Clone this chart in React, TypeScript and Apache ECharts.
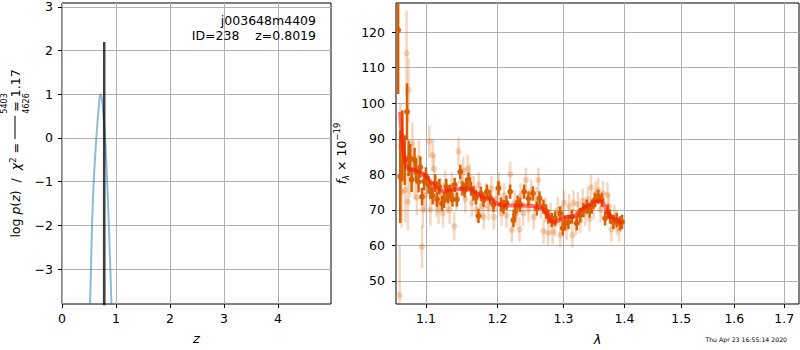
import React, { useEffect, useRef } from 'react';
import * as echarts from 'echarts';

// ---- left panel: log p(z) ----
const pzZ = [0.51, 0.52, 0.53, 0.54, 0.55, 0.56, 0.57, 0.58, 0.60, 0.62, 0.64, 0.66, 0.68, 0.70, 0.71, 0.72, 0.74, 0.76, 0.78, 0.80, 0.82, 0.84, 0.86, 0.88, 0.90, 0.92, 0.93];
const pzLog = [-4.4, -3.75, -3.3, -2.8, -2.3, -1.85, -1.5, -1.2, -0.72, -0.3, 0.08, 0.4, 0.7, 0.95, 1.0, 0.98, 0.88, 0.65, 0.35, -0.05, -0.55, -1.1, -1.75, -2.45, -3.2, -4.05, -4.5];
const spikeZ = [0.780, 0.7812, 0.7828, 0.784];
const spikeLog = [-4.5, 2.2, 2.2, -4.5];
const leftXRange = [0, 4.98];
const leftYRange = [-3.8, 3.09];
const leftXTicks = [0, 1, 2, 3, 4];
const leftYTicks = [-3, -2, -1, 0, 1, 2, 3];

// ---- right panel: spectrum ----
const rightXRange = [1.0607, 1.7308];
const rightYRange = [43.5, 128.2];
const rightXTicks = [1.1, 1.2, 1.3, 1.4, 1.5, 1.6, 1.7];
const rightYTicks = [50, 60, 70, 80, 90, 100, 110, 120];

const darkLam = [1.0635, 1.0662, 1.069, 1.072, 1.075, 1.077, 1.0793, 1.081, 1.0849, 1.0871, 1.0902, 1.0925, 1.0948, 1.0975, 1.1, 1.1035, 1.106, 1.109, 1.1125, 1.115, 1.118, 1.1216, 1.1245, 1.1275, 1.13, 1.1329, 1.136, 1.139, 1.1422, 1.1468, 1.15, 1.153, 1.1552, 1.1584, 1.162, 1.1654, 1.169, 1.1725, 1.176, 1.1797, 1.1846, 1.189, 1.194, 1.2014, 1.205, 1.2087, 1.213, 1.2185, 1.2234, 1.2259, 1.2295, 1.2334, 1.2394, 1.2459, 1.2526, 1.2586, 1.2627, 1.2688, 1.273, 1.2765, 1.2818, 1.2869, 1.2948, 1.299, 1.3026, 1.3079, 1.3133, 1.3212, 1.3266, 1.3319, 1.3374, 1.342, 1.3456, 1.3509, 1.3563, 1.362, 1.3675, 1.372, 1.3758, 1.3813, 1.3869, 1.3926, 1.396];
const darkFlux = [120.6, 79.3, 88.0, 84.0, 97.6, 84.5, 84.5, 78.5, 84.0, 80.7, 77.9, 82.0, 73.7, 78.0, 79.5, 77.0, 75.5, 74.0, 77.5, 73.0, 76.5, 71.8, 72.7, 76.5, 73.8, 75.1, 72.9, 77.0, 72.9, 80.7, 76.0, 75.5, 77.0, 78.5, 76.0, 74.6, 73.5, 68.3, 74.5, 72.8, 75.1, 73.5, 71.4, 76.1, 71.5, 70.9, 72.0, 75.1, 67.1, 69.5, 72.0, 71.4, 75.1, 73.2, 74.6, 70.4, 73.2, 70.9, 69.5, 68.1, 67.1, 67.6, 69.0, 64.8, 66.2, 66.6, 68.1, 66.2, 68.5, 69.9, 70.9, 69.8, 70.9, 72.8, 73.7, 72.8, 67.6, 69.5, 68.1, 66.6, 67.1, 66.2, 66.6];
const darkErr = [18, 13, 10, 7, 8, 5, 4, 3.5, 3.5, 3, 3, 3, 2.5, 2.5, 2.5, 2.5, 2.5, 2.5, 2.5, 2.2, 2.2, 2.2, 2.2, 2.2, 2, 2, 2, 2, 2, 2, 2, 2, 2, 2, 2, 2, 2, 2, 2, 2, 2, 2, 2, 2, 2, 2, 2, 2, 2, 2, 2, 2, 2, 2, 2, 2, 2, 2, 2, 2, 2, 2, 2, 2, 2, 2, 2, 2, 2, 2, 2, 2, 2, 2, 2, 2, 2, 2, 2, 2, 2, 2, 2];

const lightLam = [1.0655, 1.0665, 1.068, 1.0725, 1.0744, 1.076, 1.077, 1.079, 1.082, 1.085, 1.088, 1.0905, 1.0947, 1.096, 1.099, 1.1045, 1.106, 1.109, 1.111, 1.114, 1.117, 1.12, 1.123, 1.126, 1.129, 1.132, 1.135, 1.1385, 1.1415, 1.1444, 1.148, 1.151, 1.154, 1.157, 1.16, 1.163, 1.166, 1.1695, 1.173, 1.1765, 1.18, 1.1835, 1.187, 1.191, 1.1945, 1.198, 1.202, 1.206, 1.2095, 1.213, 1.2185, 1.221, 1.225, 1.228, 1.2324, 1.234, 1.238, 1.242, 1.246, 1.25, 1.254, 1.258, 1.261, 1.265, 1.269, 1.272, 1.276, 1.28, 1.283, 1.287, 1.291, 1.295, 1.298, 1.301, 1.305, 1.309, 1.3143, 1.316, 1.32, 1.323, 1.327, 1.331, 1.335, 1.339, 1.342, 1.3444, 1.349, 1.352, 1.356, 1.36, 1.364, 1.3713, 1.374, 1.378, 1.383, 1.387, 1.391];
const lightFlux = [46.0, 87.8, 75.0, 75.5, 114.1, 72.3, 103.7, 80.5, 88.5, 79.0, 73.5, 84.5, 59.6, 70.0, 74.0, 89.2, 70.0, 85.4, 81.5, 72.0, 70.0, 75.0, 69.0, 77.0, 73.0, 70.0, 76.5, 65.4, 74.0, 86.4, 78.0, 81.0, 73.0, 81.5, 79.0, 72.0, 76.0, 70.0, 77.0, 71.0, 68.0, 74.0, 70.5, 76.0, 68.0, 73.0, 77.0, 69.0, 74.0, 68.5, 80.0, 64.3, 72.0, 69.0, 64.5, 74.0, 69.0, 78.4, 70.0, 75.0, 68.0, 73.0, 78.4, 71.0, 64.0, 70.0, 63.5, 68.5, 63.8, 66.0, 70.0, 63.0, 68.0, 72.0, 65.0, 71.0, 62.9, 72.0, 66.5, 71.5, 67.0, 72.5, 69.0, 73.0, 67.5, 76.3, 71.0, 74.5, 75.5, 70.0, 74.5, 74.2, 71.0, 64.5, 68.0, 66.5, 64.5];
const lightErr = [14, 12, 10, 9, 12, 8, 9, 7, 6, 6, 5, 5, 6, 5, 4.5, 4.5, 4.5, 4.5, 4, 4, 4, 4, 4, 4, 4, 4, 4, 4, 4, 4, 4, 4, 4, 4, 4, 4, 3.5, 3.5, 3.5, 3.5, 3.5, 3.5, 3.5, 3.5, 3.5, 3.5, 3.5, 3.5, 3.5, 3.5, 3.5, 3.5, 3.5, 3.5, 3.5, 3.5, 3.5, 3.5, 3.5, 3.5, 3.5, 3.5, 3.5, 3.5, 3.5, 3.5, 3.5, 3.5, 3.5, 3.5, 3.5, 3.5, 3.5, 3.5, 3.5, 3.5, 3.5, 3.5, 3.5, 3.5, 3.5, 3.5, 3.5, 3.5, 3.5, 3.5, 3.5, 3.5, 3.5, 3.5, 3.5, 3.5, 3.5, 3.5, 3.5, 3.5, 3.5];

const modelLam = [1.0659, 1.0675, 1.0692, 1.0724, 1.0766, 1.0873, 1.0956, 1.1048, 1.1158, 1.1224, 1.13, 1.1375, 1.1514, 1.1608, 1.1702, 1.1797, 1.1893, 1.199, 1.2087, 1.2185, 1.2284, 1.2485, 1.2637, 1.2714, 1.2791, 1.2854, 1.2948, 1.3027, 1.3159, 1.3266, 1.3374, 1.3482, 1.3592, 1.3647, 1.3702, 1.3758, 1.3813, 1.3869, 1.3926, 1.396];
const modelFlux = [97.6, 93.0, 88.9, 83.5, 81.6, 81.1, 80.2, 78.3, 76.0, 75.3, 75.5, 75.8, 75.9, 75.8, 74.6, 73.5, 72.9, 71.8, 71.2, 71.2, 71.2, 71.1, 70.7, 69.5, 67.1, 66.5, 67.1, 68.0, 68.0, 69.9, 71.1, 72.1, 72.5, 71.8, 69.9, 68.0, 67.6, 67.1, 66.6, 66.4];

// ---- texts ----
const objName = 'j003648m4409';
const objInfo = 'ID=238\u00a0\u00a0\u00a0\u00a0z=0.8019';
const chiNum = '5403';
const chiDen = '4626';
const chiRed = '1.17';
const stamp = 'Thu Apr 23 16:55:14 2020';

const FONT = 'DejaVu Sans';
const GRID_GRAY = '#b0b0b0';
const minusFmt = (v: number) => (v < 0 ? '\u2212' + Math.abs(v) : String(v));

function errRender(color: string, barW: number, r: number) {
  return (params: any, api: any) => {
    const cs = params.coordSys;
    const clampY = (y: number) => Math.max(cs.y, Math.min(cs.y + cs.height, y));
    const x = api.value(0);
    const y = api.value(1);
    const e = api.value(2);
    const c = api.coord([x, y]);
    const t = api.coord([x, y + e]);
    const b = api.coord([x, y - e]);
    const children: any[] = [
      { type: 'line', shape: { x1: c[0], y1: clampY(t[1]), x2: c[0], y2: clampY(b[1]) }, style: { stroke: color, lineWidth: barW } },
    ];
    if (c[1] >= cs.y && c[1] <= cs.y + cs.height) {
      children.push({ type: 'circle', shape: { cx: c[0], cy: c[1], r }, style: { fill: color } });
    }
    return { type: 'group', children };
  };
}

export default function App() {
  const ref = useRef<HTMLDivElement>(null);
  useEffect(() => {
    if (!ref.current) return;
    const chart = echarts.init(ref.current, undefined, { renderer: 'svg' });

    // measure text widths so that the fraction sits over its bar
    const ctx = document.createElement('canvas').getContext('2d') as CanvasRenderingContext2D;
    const mw = (t: string, size: number, italic = false) => {
      ctx.font = `${italic ? 'italic ' : ''}${size}px "${FONT}"`;
      return ctx.measureText(t).width;
    };
    const prefixW = mw('log ', 12.5) + mw('p', 12.5, true) + mw('(', 12.5) + mw('z', 12.5, true) + mw(')  /  ', 12.5) + mw('χ', 12.5, true) + mw('2', 8.5) + mw(' = ', 12.5);
    const numW = Math.max(mw(chiNum, 8), mw(chiDen, 8));
    const barW = numW + 3;
    const spW = prefixW + (barW - numW) / 2;

    const leftName =
      `{sp|}{fr|${chiNum}}\n` +
      `{n|log }{i|p}{n|(}{i|z}{n|)  /  }{i|χ}{s|2}{n| = }{bar|}{n| = ${chiRed}}\n` +
      `{sp|}{fr|${chiDen}}`;

    const mkLabel = (margin: number, vals: number[], fmt: any) => ({ fontFamily: FONT, fontSize: 12.5, color: '#000', margin, customValues: vals, formatter: fmt });
    const mkTick = (vals: number[]) => ({ show: true, inside: false, length: 4, lineStyle: { color: '#000', width: 1 }, customValues: vals });
    const mkSplit = () => ({ show: true, lineStyle: { color: GRID_GRAY, width: 1 } });
    const titleStyle = (size: number) => ({ fontFamily: FONT, fontSize: size, fontWeight: 'normal', color: '#000' });

    const option: any = {
      animation: false,
      title: [
        { text: objName, right: 484, top: 14, padding: 0, textStyle: titleStyle(12.5) },
        { text: objInfo, right: 484, top: 29, padding: 0, textStyle: titleStyle(12.5) },
        { text: stamp, right: 13, top: 336, padding: 0, textStyle: titleStyle(6.2) },
      ],
      grid: [
        { left: 62, top: 3, width: 269, height: 301, show: true, borderColor: '#000', borderWidth: 1, backgroundColor: 'transparent', containLabel: false, outerBoundsMode: 'none' },
        { left: 396, top: 3, width: 403, height: 301, show: true, borderColor: '#000', borderWidth: 1, backgroundColor: 'transparent', containLabel: false, outerBoundsMode: 'none' },
      ],
      xAxis: [
        {
          gridIndex: 0, type: 'value', min: leftXRange[0], max: leftXRange[1],
          axisLine: { show: false, onZero: false },
          axisTick: mkTick(leftXTicks),
          axisLabel: mkLabel(8, leftXTicks, minusFmt),
          splitLine: mkSplit(),
          name: 'z', nameLocation: 'middle', nameGap: 28, nameMoveOverlap: false,
          nameTextStyle: { fontFamily: FONT, fontSize: 13, fontStyle: 'italic', color: '#000' },
        },
        {
          gridIndex: 1, type: 'log', logBase: 10, min: rightXRange[0], max: rightXRange[1],
          axisLine: { show: false, onZero: false },
          axisTick: mkTick(rightXTicks),
          axisLabel: mkLabel(8, rightXTicks, (v: number) => v.toFixed(1)),
          splitLine: mkSplit(), minorTick: { show: false }, minorSplitLine: { show: false },
          name: 'λ', nameLocation: 'middle', nameGap: 29, nameMoveOverlap: false,
          nameTextStyle: { fontFamily: FONT, fontSize: 13, fontStyle: 'italic', color: '#000' },
        },
      ],
      yAxis: [
        {
          gridIndex: 0, type: 'value', min: leftYRange[0], max: leftYRange[1],
          axisLine: { show: false, onZero: false },
          axisTick: mkTick(leftYTicks),
          axisLabel: mkLabel(9, leftYTicks, minusFmt),
          splitLine: mkSplit(),
          name: leftName, nameLocation: 'middle', nameRotate: 90, nameGap: 32, nameMoveOverlap: false,
          nameTextStyle: {
            color: '#000',
            rich: {
              n: { fontFamily: FONT, fontSize: 12.5, lineHeight: 14, color: '#000' },
              i: { fontFamily: FONT, fontSize: 12.5, lineHeight: 14, fontStyle: 'italic', color: '#000' },
              s: { fontFamily: FONT, fontSize: 8.5, verticalAlign: 'top', color: '#000' },
              bar: { width: barW, height: 1, lineHeight: 14, backgroundColor: '#000' },
              sp: { width: spW, lineHeight: 8 },
              fr: { fontFamily: FONT, fontSize: 8, lineHeight: 8, color: '#000' },
            },
          },
        },
        {
          gridIndex: 1, type: 'value', min: rightYRange[0], max: rightYRange[1],
          axisLine: { show: false, onZero: false },
          axisTick: mkTick(rightYTicks),
          axisLabel: mkLabel(11, rightYTicks, (v: number) => String(v)),
          splitLine: mkSplit(),
          name: '{i|f}{b|λ}{n| × 10}{p|−19}', nameLocation: 'middle', nameRotate: 90, nameGap: 46, nameMoveOverlap: false,
          nameTextStyle: {
            color: '#000',
            rich: {
              n: { fontFamily: FONT, fontSize: 12.5, lineHeight: 18, color: '#000' },
              i: { fontFamily: FONT, fontSize: 12.5, lineHeight: 18, fontStyle: 'italic', color: '#000' },
              b: { fontFamily: FONT, fontSize: 8.5, fontStyle: 'italic', verticalAlign: 'bottom', color: '#000' },
              p: { fontFamily: FONT, fontSize: 8.5, verticalAlign: 'top', color: '#000' },
            },
          },
        },
      ],
      series: [
        {
          type: 'line', xAxisIndex: 0, yAxisIndex: 0, showSymbol: false, smooth: 0.4,
          data: pzZ.map((z, i) => [z, pzLog[i]]),
          lineStyle: { color: 'rgba(31,119,180,0.5)', width: 2 }, z: 2,
        },
        {
          type: 'line', xAxisIndex: 0, yAxisIndex: 0, showSymbol: false,
          data: spikeZ.map((z, i) => [z, spikeLog[i]]),
          lineStyle: { color: 'rgba(0,0,0,0.75)', width: 2.5 }, z: 3,
        },
        {
          type: 'custom', xAxisIndex: 1, yAxisIndex: 1, clip: false, z: 2,
          data: lightLam.map((l, i) => [l, lightFlux[i], lightErr[i]]),
          encode: { x: 0, y: 1 },
          renderItem: errRender('rgba(217,95,2,0.25)', 2.5, 3.2),
        },
        {
          type: 'custom', xAxisIndex: 1, yAxisIndex: 1, clip: false, z: 3,
          data: darkLam.map((l, i) => [l, darkFlux[i], darkErr[i]]),
          encode: { x: 0, y: 1 },
          renderItem: errRender('#d95f02', 2.5, 2.9),
        },
        {
          type: 'line', xAxisIndex: 1, yAxisIndex: 1, showSymbol: false, smooth: 0.3,
          data: modelLam.map((l, i) => [l, modelFlux[i]]),
          lineStyle: { color: 'rgba(255,20,10,0.6)', width: 4 }, z: 4,
        },
      ],
    };
    chart.setOption(option);
    return () => chart.dispose();
  }, []);
  return <div ref={ref} style={{ position: 'fixed', left: 0, top: 0, width: 800, height: 350, background: '#fff' }} />;
}
